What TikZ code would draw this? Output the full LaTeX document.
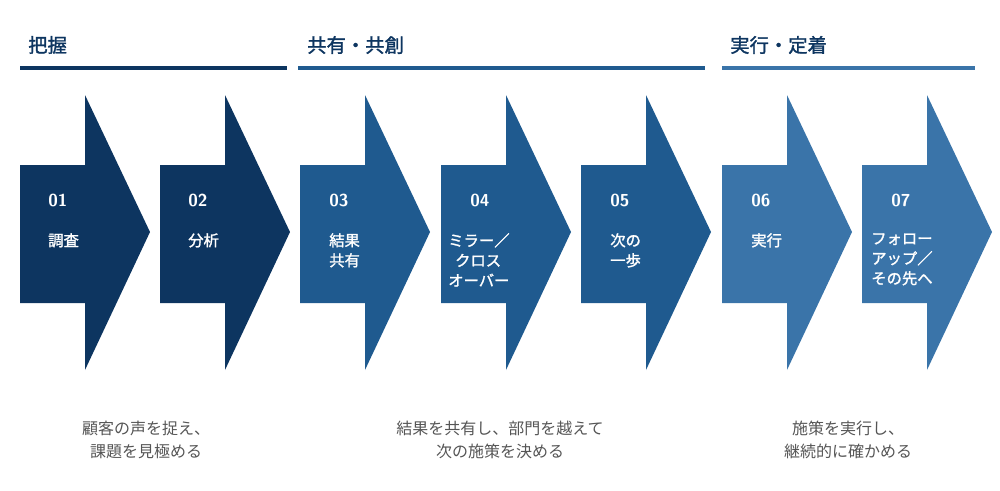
\documentclass[tikz,border=0pt]{standalone}
\usepackage{fontspec}
\setmainfont{Noto Sans CJK JP}
\newfontfamily\cjkbold{Noto Sans CJK JP}[FakeBold=1.5]
\usepackage{tikz}
\definecolor{navyA}{HTML}{0D3560}
\definecolor{navyB}{HTML}{1F5A8F}
\definecolor{navyC}{HTML}{3A74A9}
\definecolor{capGray}{HTML}{555555}
\tikzset{
  head/.style={anchor=west,inner sep=0.75pt,font=\cjkbold\fontsize{14.5}{16}\selectfont,text=navyA},
  num/.style={anchor=west,inner sep=0.75pt,font=\bfseries\sffamily\fontsize{13}{14}\selectfont,text=white},
  lab/.style={anchor=north west,inner sep=0.75pt,align=left,font=\cjkbold\fontsize{11.5}{15}\selectfont,text=white},
  captxt/.style={inner sep=0.75pt,align=center,font=\fontsize{12}{17}\selectfont,text=capGray}
}
% one chevron-like block arrow: left x, colour
\newcommand{\stepArrow}[2]{%
  \fill[#2] (#1,165) -- (#1+65,165) -- (#1+65,95) -- (#1+130,232) -- (#1+65,370) -- (#1+65,303) -- (#1,303) -- cycle;}
\begin{document}
\begin{tikzpicture}[x=0.75pt,y=0.75pt,yscale=-1,xscale=1]
\useasboundingbox (0,0) rectangle (1000,490);

%Header bars
\draw[navyA,line width=3pt] (20,68) -- (287,68);
\draw[navyB,line width=3pt] (298,68) -- (705,68);
\draw[navyC,line width=3pt] (722,68) -- (975,68);

% Header text
\node[head] (h1) at (27,45) {把握};
\node[head] (h2) at (306,45) {共有・共創};
\node[head] (h3) at (729,45) {実行・定着};

%Arrows
\stepArrow{20}{navyA}
\stepArrow{160}{navyA}
\stepArrow{300}{navyB}
\stepArrow{441}{navyB}
\stepArrow{581}{navyB}
\stepArrow{722}{navyC}
\stepArrow{862}{navyC}

% Step numbers
\node[num] (n1) at (47,200) {01};
\node[num] (n2) at (187,200) {02};
\node[num] (n3) at (328,200) {03};
\node[num] (n4) at (469,200) {04};
\node[num] (n5) at (609,200) {05};
\node[num] (n6) at (750,200) {06};
\node[num] (n7) at (890,200) {07};

% Step labels
\node[lab] (s1) at (47,232) {調査};
\node[lab] (s2) at (187,232) {分析};
\node[lab] (s3) at (328,232) {結果\\共有};
\node[lab] (s4) at (447,232) {ミラー／\\\ \ クロス\\オーバー};
\node[lab] (s5) at (609,232) {次の\\一歩};
\node[lab] (s6) at (750,232) {実行};
\node[lab] (s7) at (870,232) {フォロー\\アップ／\\その先へ};

% Captions
\node[captxt] (c1) at (146,440) {顧客の声を捉え、\\課題を見極める};
\node[captxt] (c2) at (500,440) {結果を共有し、部門を越えて\\次の施策を決める};
\node[captxt] (c3) at (848,440) {施策を実行し、\\継続的に確かめる};
\end{tikzpicture}
\end{document}
